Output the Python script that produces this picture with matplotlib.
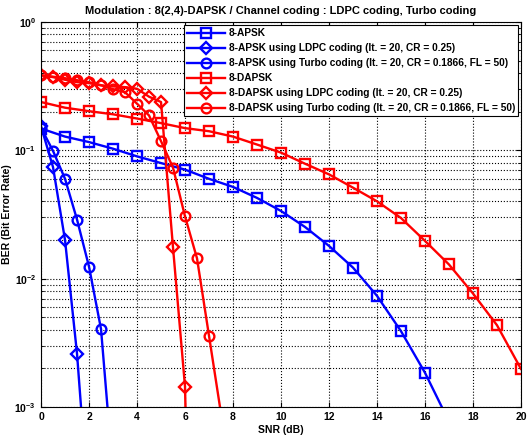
import matplotlib
matplotlib.use("Agg")
import matplotlib.pyplot as plt
from matplotlib.ticker import LogLocator, NullFormatter

plt.rcParams['font.family'] = ['Liberation Sans', 'DejaVu Sans']

# 8-APSK
snr_apsk = [0, 1, 2, 3, 4, 5, 6, 7, 8, 9, 10, 11, 12, 13, 14, 15, 16, 17]
ber_apsk = [0.148, 0.128, 0.116, 0.103, 0.0898, 0.0796, 0.0708, 0.060, 0.0519,
            0.0426, 0.0337, 0.0253, 0.018, 0.0122, 0.00735, 0.0039, 0.00185, 0.00077]

snr_apsk_ldpc = [0, 0.5, 1, 1.5, 2]
ber_apsk_ldpc = [0.154, 0.074, 0.020, 0.0026, 0.00015]

snr_apsk_turbo = [0, 0.5, 1, 1.5, 2, 2.5, 3]
ber_apsk_turbo = [0.150, 0.099, 0.060, 0.0289, 0.0124, 0.00405, 0.0003]

# 8-DAPSK
snr_dapsk = list(range(0, 21))
ber_dapsk = [0.238, 0.215, 0.202, 0.191, 0.177, 0.163, 0.149, 0.141, 0.128, 0.111,
             0.096, 0.0787, 0.065, 0.0512, 0.0401, 0.0297, 0.0197, 0.0129, 0.00767,
             0.00434, 0.00198]

snr_dapsk_ldpc = [0, 0.5, 1, 1.5, 2, 2.5, 3, 3.5, 4, 4.5, 5, 5.5, 6, 6.5]
ber_dapsk_ldpc = [0.384, 0.372, 0.355, 0.340, 0.334, 0.321, 0.315, 0.311, 0.302,
                  0.262, 0.238, 0.0175, 0.00144, 1e-7]

snr_dapsk_turbo = [0, 0.5, 1, 1.5, 2, 2.5, 3, 3.5, 4, 4.5, 5, 5.5, 6, 6.5, 7, 8]
ber_dapsk_turbo = [0.385, 0.375, 0.365, 0.352, 0.340, 0.322, 0.300, 0.284, 0.231,
                   0.187, 0.118, 0.0733, 0.0306, 0.0144, 0.00359, 0.00022]

fig = plt.figure(figsize=(5.28, 4.37), dpi=100)
ax = fig.add_axes([0.0777, 0.0686, 0.909, 0.881])

style = dict(linewidth=1.7, markersize=7, markerfacecolor='none', markeredgewidth=1.7)
dstyle = dict(linewidth=1.7, markersize=6.5, markerfacecolor='none', markeredgewidth=1.7)
ax.semilogy(snr_apsk, ber_apsk, 'b-s', label='8-APSK', **style)
ax.semilogy(snr_apsk_ldpc, ber_apsk_ldpc, 'b-D',
            label='8-APSK using LDPC coding (It. = 20, CR = 0.25)', **dstyle)
ax.semilogy(snr_apsk_turbo, ber_apsk_turbo, 'b-o',
            label='8-APSK using Turbo coding (It. = 20, CR = 0.1866, FL = 50)', **style)
ax.semilogy(snr_dapsk, ber_dapsk, 'r-s', label='8-DAPSK', **style)
ax.semilogy(snr_dapsk_ldpc, ber_dapsk_ldpc, 'r-D',
            label='8-DAPSK using LDPC coding (It. = 20, CR = 0.25)', **dstyle)
ax.semilogy(snr_dapsk_turbo, ber_dapsk_turbo, 'r-o',
            label='8-DAPSK using Turbo coding (It. = 20, CR = 0.1866, FL = 50)', **style)

ax.set_xlim(0, 20)
ax.set_ylim(1e-3, 1)
ax.set_xticks(range(0, 21, 2))
ax.yaxis.set_major_locator(LogLocator(base=10, numticks=10))
ax.yaxis.set_minor_locator(LogLocator(base=10, subs=range(2, 10), numticks=10))
ax.yaxis.set_minor_formatter(NullFormatter())
ax.grid(True, which='both', linestyle=':', color='black', linewidth=0.8)
ax.tick_params(direction='in', which='both', top=True, right=True, labelsize=7.5)
for lbl in ax.get_xticklabels() + ax.get_yticklabels():
    lbl.set_fontweight('bold')

ax.set_xlabel('SNR (dB)', fontsize=7.5, fontweight='bold', labelpad=2)
ax.set_ylabel('BER (Bit Error Rate)', fontsize=7.5, fontweight='bold', labelpad=2)
ax.set_title('Modulation : 8(2,4)-DAPSK / Channel coding : LDPC coding, Turbo coding',
             fontsize=8, fontweight='bold', pad=6)

leg = ax.legend(loc='upper right', handlelength=3.8, borderaxespad=0.3,
                labelspacing=0.5, handletextpad=0.3, fancybox=False, framealpha=1,
                borderpad=0.3, prop={'weight': 'bold', 'size': 7.3})
leg.get_frame().set_edgecolor('black')
leg.get_frame().set_linewidth(0.8)

fig.savefig('out.png', dpi=100)
